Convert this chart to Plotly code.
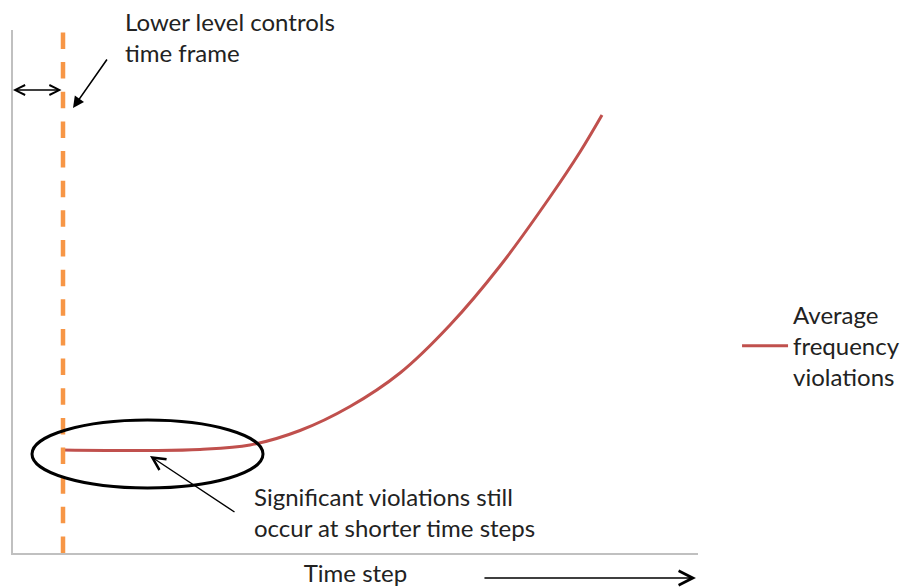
import plotly.graph_objects as go

# ---- data ----
time_step = [1.0, 2.74, 3.74, 4.74, 5.74, 6.74, 7.74, 8.74, 9.74, 10.74, 11.34, 11.78]
avg_freq_violations = [2.06, 2.05, 2.07, 2.16, 2.45, 2.93, 3.6, 4.56, 5.74, 7.12, 8.02, 8.76]
lower_level_time_step = 1.0
series_name = "Average<br>frequency<br>violations"

X_RANGE = [0, 13.7]
Y_RANGE = [0, 10.46]

FONT = "Lato, 'Open Sans', sans-serif"
TXT = "#222222"
FS = 24

fig = go.Figure()
fig.add_trace(go.Scatter(
    x=time_step, y=avg_freq_violations, mode="lines", name=series_name,
    line=dict(color="#c0504d", width=3, shape="spline", smoothing=1.0),
    hoverinfo="skip"
))

# orange dashed vertical (lower level)
fig.add_shape(type="line", xref="x", yref="paper", x0=lower_level_time_step, x1=lower_level_time_step,
              y0=0, y1=1, line=dict(color="#f79646", width=4.5, dash="16.5px,13.15px"), layer="above")

# ellipse around the flat part
fig.add_shape(type="circle", xref="x", yref="y", x0=0.38, x1=5.0, y0=1.3, y1=2.66,
              line=dict(color="black", width=3))

anns = []
anns.append(dict(xref="x", yref="y", x=0, y=9.26, ax=50, ay=0, text="", showarrow=True,
                 arrowhead=5, startarrowhead=5, arrowside="end+start", arrowwidth=1.4,
                 arrowsize=1.4, startarrowsize=1.4, arrowcolor="black"))
anns.append(dict(xref="x", yref="y", x=1.2, y=8.9, ax=35, ay=-50, text="", showarrow=True,
                 arrowhead=2, arrowwidth=1.6, arrowsize=1.4, arrowcolor="black"))
anns.append(dict(xref="x", yref="y", x=2.74, y=1.94, ax=86, ay=57, text="", showarrow=True,
                 arrowhead=5, arrowwidth=1.4, arrowsize=1.8, arrowcolor="black"))
anns.append(dict(xref="paper", yref="paper", x=0.997, y=-0.0478, ax=-213, ay=0, text="",
                 showarrow=True, arrowhead=5, arrowwidth=1.4, arrowsize=2.0, arrowcolor="black"))
anns.append(dict(xref="paper", yref="paper", x=0.1606, y=0.9866, xanchor="left", yanchor="middle",
                 align="left", showarrow=False, text="Lower level controls<br>time frame",
                 font=dict(family=FONT, size=FS, color=TXT)))
anns.append(dict(xref="x", yref="y", x=4.78, y=0.82, xanchor="left", yanchor="middle",
                 align="left", showarrow=False,
                 text="Significant violations still<br>occur at shorter time steps",
                 font=dict(family=FONT, size=FS, color=TXT)))

fig.update_layout(
    width=903, height=587,
    margin=dict(l=13, r=205, t=30, b=34, autoexpand=False),
    paper_bgcolor="white", plot_bgcolor="white",
    font=dict(family=FONT, size=FS, color=TXT),
    annotations=anns,
    showlegend=True,
    legend=dict(x=1.057, y=0.396, xanchor="left", yanchor="middle", itemwidth=46,
                font=dict(family=FONT, size=FS, color=TXT), bgcolor="rgba(0,0,0,0)"),
    xaxis=dict(range=X_RANGE, showgrid=False, zeroline=False, showticklabels=False, ticks="",
               showline=True, linecolor="#c0c0c0", linewidth=1.5, automargin=False,
               title=dict(text="Time step", standoff=17, font=dict(family=FONT, size=FS, color=TXT))),
    yaxis=dict(range=Y_RANGE, showgrid=False, zeroline=False, showticklabels=False, ticks="",
               showline=True, linecolor="#c0c0c0", linewidth=1.5, automargin=False),
)

fig.write_html("out.html", config={"displayModeBar": False},
               post_script="document.body.style.margin='0';document.body.style.overflow='hidden';")
